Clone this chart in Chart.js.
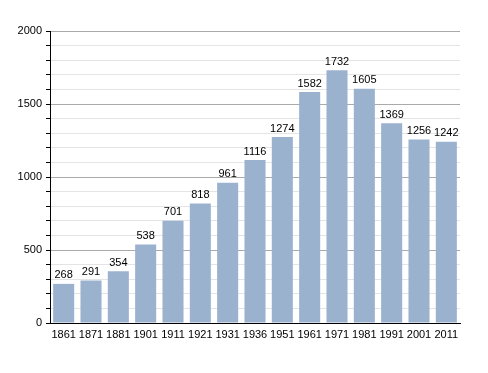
<!DOCTYPE html>
<html>
<head>
<meta charset="utf-8">
<script src="https://cdn.jsdelivr.net/npm/chart.js@4"></script>
<style>
  html, body { margin: 0; padding: 0; background: #fff; }
  #wrap { width: 488px; height: 373px; }
</style>
</head>
<body>
<div id="wrap"><canvas id="myChart" width="488" height="373"></canvas></div>
<script>
var years = ["1861", "1871", "1881", "1901", "1911", "1921", "1931", "1936", "1951", "1961", "1971", "1981", "1991", "2001", "2011"];
var population = [268, 291, 354, 538, 701, 818, 961, 1116, 1274, 1582, 1732, 1605, 1369, 1256, 1242];
var yTicks = [0, 500, 1000, 1500, 2000];

// draw the value over each bar
var valueLabels = {
  id: "valueLabels",
  afterDatasetsDraw: function (chart) {
    var ctx = chart.ctx;
    var meta = chart.getDatasetMeta(0);
    ctx.save();
    ctx.font = "11px 'Liberation Sans', Arial, sans-serif";
    ctx.fillStyle = "#000";
    ctx.textAlign = "center";
    ctx.textBaseline = "bottom";
    meta.data.forEach(function (bar, i) {
      ctx.fillText(population[i], bar.x, bar.y - 3);
    });
    ctx.restore();
  }
};

var ctx = document.getElementById("myChart").getContext("2d");
var myChart = new Chart(ctx, {
  type: "bar",
  data: {
    labels: years,
    datasets: [{
      data: population,
      backgroundColor: "#9bb2cf",
      borderWidth: 0,
      categoryPercentage: 1.0,
      barPercentage: 0.77
    }]
  },
  options: {
    responsive: false,
    animation: false,
    layout: { padding: { top: 31, right: 28, bottom: 0, left: 0 } },
    plugins: {
      legend: { display: false },
      tooltip: { enabled: false }
    },
    scales: {
      x: {
        grid: { display: false, drawTicks: false },
        border: { color: "#000", width: 1 },
        ticks: {
          color: "#000",
          padding: 5,
          maxRotation: 0,
          autoSkip: false,
          font: { family: "'Liberation Sans', Arial, sans-serif", size: 11 }
        },
        afterFit: function (scale) { scale.height = 50; }
      },
      y: {
        min: 0,
        max: 2000,
        border: { color: "#000", width: 1 },
        grid: {
          color: function (c) {
            return yTicks.indexOf(c.tick.value) >= 0 ? "#aaaaaa" : "#e4e4e4";
          },
          tickColor: "#000",
          tickLength: 4
        },
        ticks: {
          stepSize: 100,
          autoSkip: false,
          color: "#000",
          padding: 4,
          font: { family: "'Liberation Sans', Arial, sans-serif", size: 11 },
          callback: function (v) {
            return yTicks.indexOf(v) >= 0 ? v : "";
          }
        },
        afterFit: function (scale) { scale.width = 50; }
      }
    }
  },
  plugins: [valueLabels]
});
</script>
</body>
</html>
